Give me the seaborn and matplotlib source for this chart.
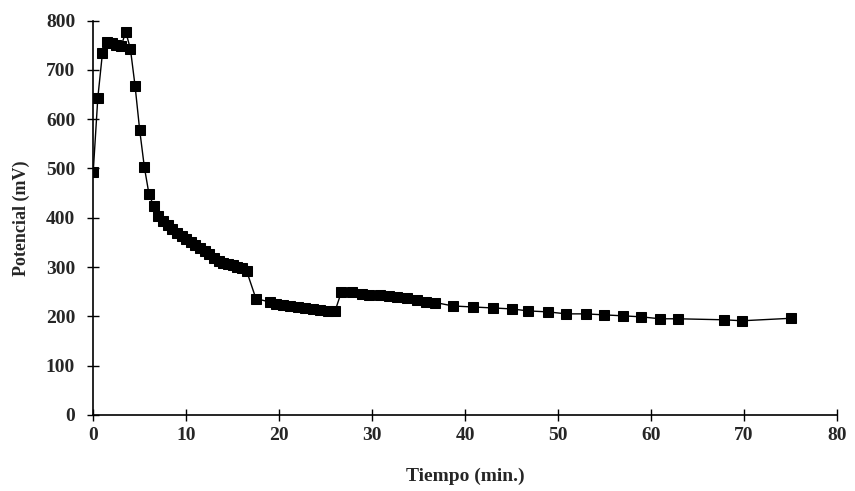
import matplotlib
matplotlib.use("Agg")
import matplotlib.pyplot as plt
import seaborn as sns
import pandas as pd

# Time (min.)
tiempo = [0, 0.5, 1.0, 1.5, 2.0, 2.5, 3.0, 3.5, 4.0, 4.5, 5.0, 5.5, 6.0, 6.5,
          7.0, 7.5, 8.0, 8.5, 9.0, 9.5, 10.0, 10.5, 11.0, 11.5, 12.0, 12.5,
          13.0, 13.5, 14.0, 14.5, 15.0, 15.5, 16.0, 16.5, 17.5,
          19.0, 19.7, 20.4, 21.2, 22.0, 22.8, 23.6, 24.4, 25.2, 26.0,
          26.7, 27.8, 28.9, 29.7, 30.8, 31.8, 32.7, 33.7, 34.8, 35.8, 36.8,
          38.7, 40.8, 43.0, 45.0, 46.8, 48.9, 50.9, 53.0, 54.9, 57.0, 58.9,
          61.0, 62.9, 67.8, 69.8, 75.0]
# Potential (mV)
potencial = [492, 644, 735, 757, 755, 751, 748, 777, 743, 668, 578, 503, 448, 424,
             404, 394, 385, 377, 370, 363, 356, 350, 344, 338, 333, 326,
             318, 312, 309, 307, 304, 301, 298, 292, 236,
             229, 226, 223, 221, 219, 217, 215, 213, 211, 210,
             250, 249, 246, 244, 243, 241, 239, 237, 233, 230, 228,
             221, 219, 217, 215, 211, 209, 205, 205, 203, 201, 199,
             195, 195, 193, 191, 196]

x_ticks = [0, 10, 20, 30, 40, 50, 60, 70, 80]
y_ticks = [0, 100, 200, 300, 400, 500, 600, 700, 800]

df = pd.DataFrame({"t": tiempo, "p": potencial})

sns.set_style("ticks")
plt.rcParams["font.family"] = ["Liberation Serif", "DejaVu Serif"]

fig = plt.figure(figsize=(8.55, 4.91), dpi=100)
ax = fig.add_axes([0.109, 0.155, 0.870, 0.803])

sns.lineplot(data=df, x="t", y="p", ax=ax, color="black", linewidth=1.0,
             marker="s", markersize=6.5, markeredgecolor="black",
             markerfacecolor="black", estimator=None, sort=False)

ax.set_xlim(0, 80)
ax.set_ylim(0, 800)
ax.set_xticks(x_ticks)
ax.set_yticks(y_ticks)
ax.set_xticklabels([str(v) for v in x_ticks], fontsize=14, fontweight="bold")
ax.set_yticklabels([str(v) for v in y_ticks], fontsize=14, fontweight="bold")
ax.tick_params(direction="inout", length=8, width=1.0, color="black", pad=5)
ax.tick_params(axis="y", pad=9)

for s in ["top", "right"]:
    ax.spines[s].set_visible(False)
for s in ["left", "bottom"]:
    ax.spines[s].set_linewidth(1.2)
    ax.spines[s].set_color("black")

ax.set_xlabel("Tiempo (min.)", fontsize=14, fontweight="bold", labelpad=17)
ax.set_ylabel("Potencial (mV)", fontsize=13, fontweight="bold", labelpad=11)

fig.savefig("out.png", dpi=100)
